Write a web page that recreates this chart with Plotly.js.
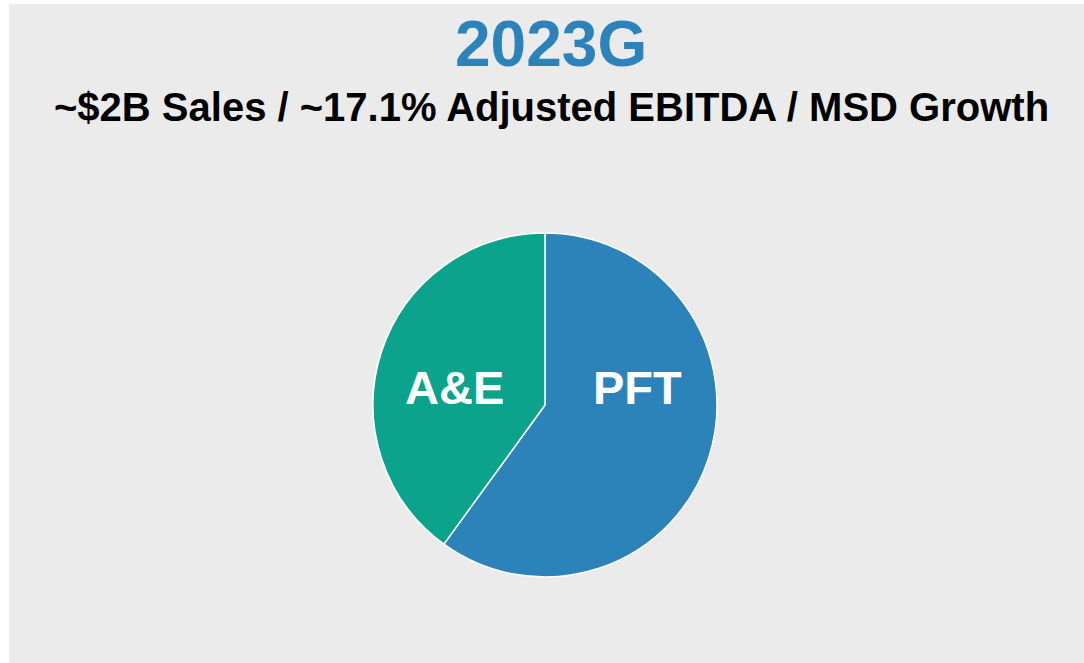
<!DOCTYPE html>
<html>
<head>
<meta charset="utf-8">
<script src="https://cdn.plot.ly/plotly-3.0.1.min.js"></script>
<style>
html,body{margin:0;padding:0;background:#ffffff;width:1084px;height:663px;overflow:hidden;}
#chart{position:absolute;left:9px;top:4px;width:1075px;height:659px;}
</style>
</head>
<body>
<div id="chart"></div>
<script>
const segments = ["PFT", "A&E"];
const shares = [60, 40];
const colors = ["#2b83ba", "#0ba38c"];
const titleText = "2023G";
const subtitleText = "~$2B Sales / ~17.1% Adjusted EBITDA / MSD Growth";

const W = 1075, H = 659;
const cx = 536, cy = 401, r = 172;

const data = [{
  type: "pie",
  labels: segments,
  values: shares,
  sort: false,
  direction: "clockwise",
  rotation: 0,
  marker: {colors: colors, line: {color: "#ffffff", width: 1.5}},
  textinfo: "none",
  hoverinfo: "label+percent",
  showlegend: false,
  domain: {x: [(cx - r) / W, (cx + r) / W], y: [(H - cy - r) / H, (H - cy + r) / H]}
}];

const layout = {
  width: W, height: H,
  margin: {l: 0, r: 0, t: 0, b: 0},
  paper_bgcolor: "#ebebeb",
  font: {family: "Liberation Sans, Arial, sans-serif"},
  showlegend: false,
  annotations: [
    {text: "<b>" + titleText + "</b>", xref: "paper", yref: "paper", x: 542 / W, y: 1 - 40 / H,
     showarrow: false, xanchor: "center", yanchor: "middle",
     font: {size: 64, color: "#2b83ba", family: "Liberation Sans, Arial, sans-serif"}},
    {text: "<b>" + subtitleText + "</b>", xref: "paper", yref: "paper", x: 542 / W, y: 1 - 103 / H,
     showarrow: false, xanchor: "center", yanchor: "middle",
     font: {size: 40, color: "#000000", family: "Liberation Sans, Arial, sans-serif"}},
    {text: "<b>" + segments[1] + "</b>", xref: "paper", yref: "paper", x: 445 / W, y: 1 - 383 / H,
     showarrow: false, xanchor: "center", yanchor: "middle",
     font: {size: 47, color: "#ffffff", family: "Liberation Sans, Arial, sans-serif"}},
    {text: "<b>" + segments[0] + "</b>", xref: "paper", yref: "paper", x: 628 / W, y: 1 - 383 / H,
     showarrow: false, xanchor: "center", yanchor: "middle",
     font: {size: 47, color: "#ffffff", family: "Liberation Sans, Arial, sans-serif"}}
  ]
};

Plotly.newPlot("chart", data, layout, {displayModeBar: false, staticPlot: true});
</script>
</body>
</html>
